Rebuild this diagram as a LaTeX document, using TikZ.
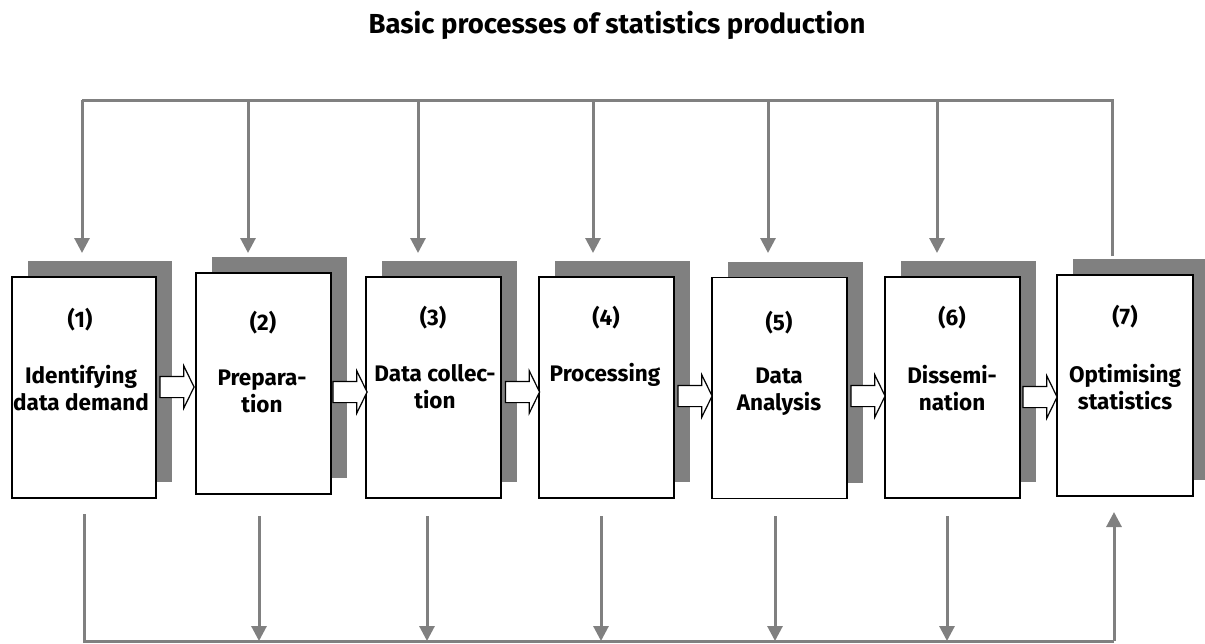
\documentclass[tikz,border=0pt]{standalone}
\usepackage{fontspec}
\setmainfont{Fira Sans}
\usetikzlibrary{arrows.meta,positioning,shapes.arrows,shadows}
\definecolor{linegray}{RGB}{128,128,128}

\begin{document}
\begin{tikzpicture}[x=1pt,y=-1pt,>={Triangle[length=15pt,width=15pt]},
                    font=\bfseries\fontsize{22.5}{27}\selectfont]
  \tikzset{
    procbox/.style={draw=black,line width=1.6pt,fill=white,inner sep=0pt,
                    minimum width=135.5pt,minimum height=221pt,
                    drop shadow={shadow xshift=16pt,shadow yshift=16pt,
                                 fill=linegray,opacity=1}},
    steptext/.style={align=center,inner sep=0pt},
    flowarrow/.style={single arrow,draw=black,line width=1.2pt,fill=white,
                      inner xsep=0pt,inner ysep=10pt,minimum height=34pt,
                      single arrow head extend=10.5pt,single arrow tip angle=128},
    busline/.style={draw=linegray,line width=3pt}
  }
  \useasboundingbox (0,0) rectangle (1205,643);

  \node[font=\bfseries\fontsize{27.5}{30}\selectfont,anchor=base] (title) at (617,33)
       {Basic processes of statistics production};

  % process boxes
  \node[procbox,minimum width=144.5pt] (b1) at (84,387.5) {};
  \node[procbox] (b2) at (263.5,383.5) {};
  \node[procbox] (b3) at (433.5,387.5) {};
  \node[procbox] (b4) at (606.5,387.5) {};
  \node[procbox] (b5) at (779.5,388) {};
  \node[procbox] (b6) at (952.5,387.5) {};
  \node[procbox] (b7) at (1125,385.5) {};

  \node[steptext] (n1) at (80,320)   {(1)};
  \node[steptext] (n2) at (263,323)  {(2)};
  \node[steptext] (n3) at (433,318)  {(3)};
  \node[steptext] (n4) at (606,318)  {(4)};
  \node[steptext] (n5) at (779,323)  {(5)};
  \node[steptext] (n6) at (952,318)  {(6)};
  \node[steptext] (n7) at (1125,317) {(7)};

  \node[steptext] (l1) at (81,388.5)   {Identifying\\data demand};
  \node[steptext] (l2) at (262,391)    {Prepara-\\tion};
  \node[steptext] (l3) at (435,387)    {Data collec-\\tion};
  \node[steptext] (l4) at (605,375)    {Processing};
  \node[steptext] (l5) at (779,391.5)  {Data\\Analysis};
  \node[steptext] (l6) at (952,388.5)  {Dissemi-\\nation};
  \node[steptext] (l7) at (1125,387.5) {Optimising\\statistics};

  % arrows between the steps
  \node[flowarrow] (a12) at (174.5,387) {};
  \node[flowarrow] (a23) at (347.5,392) {};
  \node[flowarrow] (a34) at (520,392)   {};
  \node[flowarrow] (a45) at (692.5,396) {};
  \node[flowarrow] (a56) at (865.5,396) {};
  \node[flowarrow] (a67) at (1037.5,397) {};

  % feedback on top
  \coordinate (busTL) at (82,100);
  \coordinate (busTR) at (1112,100);
  \coordinate (up7) at (1112,256);
  \coordinate (in1) at (82,253);
  \coordinate (in2) at (248,253);
  \coordinate (in3) at (418,253);
  \coordinate (in4) at (593,253);
  \coordinate (in5) at (768,253);
  \coordinate (in6) at (937,253);

  \draw[busline] (up7) -- (busTR) -- (busTL);
  \draw[busline,->] (busTL) -- (in1);
  \draw[busline,->] (in2 |- busTL) -- (in2);
  \draw[busline,->] (in3 |- busTL) -- (in3);
  \draw[busline,->] (in4 |- busTL) -- (in4);
  \draw[busline,->] (in5 |- busTL) -- (in5);
  \draw[busline,->] (in6 |- busTL) -- (in6);

  % feedback below
  \coordinate (busBL) at (84,641);
  \coordinate (busBR) at (1114,641);
  \coordinate (out1) at (84,514);
  \coordinate (out2) at (259,516);
  \coordinate (out3) at (427,516);
  \coordinate (out4) at (601,516);
  \coordinate (out5) at (775,516);
  \coordinate (out6) at (947,516);
  \coordinate (back7) at (1114,512);

  \draw[busline] (out1) -- (busBL) -- (busBR);
  \draw[busline,->] (busBR) -- (back7);
  \draw[busline,->] (out2) -- (out2 |- busBL);
  \draw[busline,->] (out3) -- (out3 |- busBL);
  \draw[busline,->] (out4) -- (out4 |- busBL);
  \draw[busline,->] (out5) -- (out5 |- busBL);
  \draw[busline,->] (out6) -- (out6 |- busBL);
\end{tikzpicture}
\end{document}
